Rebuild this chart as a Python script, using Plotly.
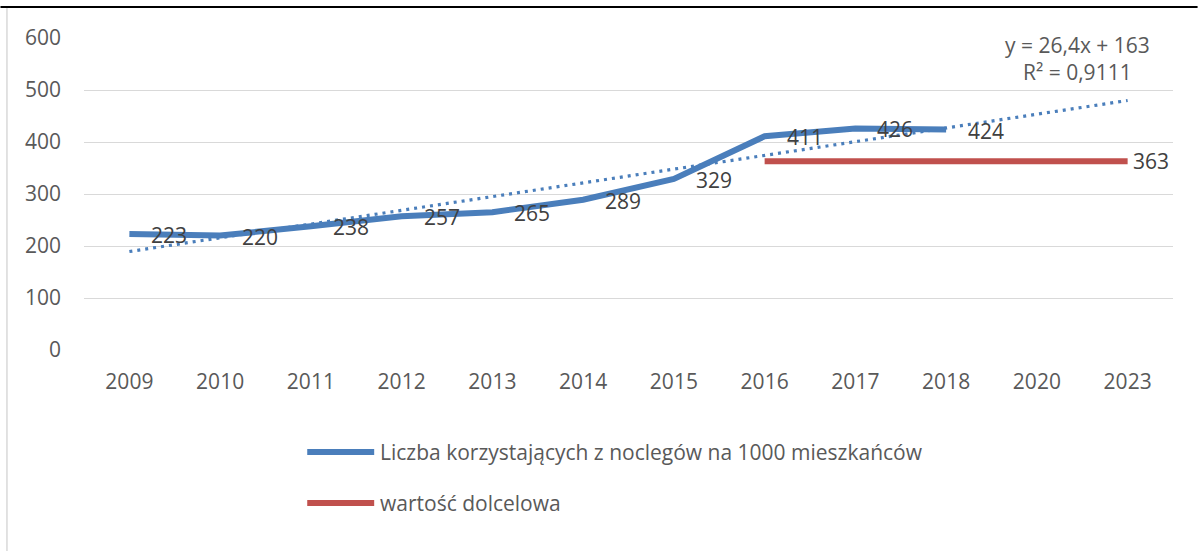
import plotly.graph_objects as go

# ---- data ----
years = ["2009", "2010", "2011", "2012", "2013", "2014", "2015", "2016", "2017", "2018", "2020", "2023"]
series_name = "Liczba korzystających z noclegów na 1000 mieszkańców"
series_values = [223, 220, 238, 257, 265, 289, 329, 411, 426, 424, None, None]
target_name = "wartość dolcelowa"
target_years = ["2016", "2017", "2018", "2020", "2023"]
target_values = [363, 363, 363, 363, 363]
trend_years = ["2009", "2023"]
trend_values = [189.4, 479.8]
trend_eq = "y = 26,4x + 163"
trend_r2 = "R² = 0,9111"

BLUE = "#4A7EBB"
RED = "#C0504D"
FONT = "Open Sans"
FS = 21

W, H = 1198, 551
L, R, T, B = 83.6, 24.6, 38, 201
pw, ph = W - L - R, H - T - B

def px(x):
    return (x - L) / pw

def py(y):
    return (H - B - y) / ph

fig = go.Figure()
fig.add_trace(go.Scatter(x=trend_years, y=trend_values, mode="lines",
                         line=dict(color=BLUE, width=3.2, dash="3px,5px"),
                         showlegend=False, hoverinfo="skip"))
fig.add_trace(go.Scatter(x=years, y=series_values, mode="lines", name=series_name,
                         line=dict(color=BLUE, width=6), showlegend=False))
fig.add_trace(go.Scatter(x=target_years, y=target_values, mode="lines", name=target_name,
                         line=dict(color=RED, width=6), showlegend=False))

annotations = []
for i, v in enumerate(series_values):
    if v is None:
        continue
    annotations.append(dict(x=i, y=v, xref="x", yref="y", text=str(v), showarrow=False,
                            xanchor="left", yanchor="middle", xshift=20, yshift=-1,
                            font=dict(family=FONT, size=FS, color="#404040")))
annotations.append(dict(x=years.index(target_years[-1]), y=target_values[-1], xref="x", yref="y",
                        text=str(target_values[-1]), showarrow=False,
                        xanchor="left", yanchor="middle", xshift=3,
                        font=dict(family=FONT, size=FS, color="#404040")))
annotations.append(dict(x=px(1078), y=py(45), xref="paper", yref="paper", text=trend_eq,
                        showarrow=False, xanchor="center", yanchor="middle",
                        font=dict(family=FONT, size=FS, color="#595959")))
annotations.append(dict(x=px(1078), y=py(72), xref="paper", yref="paper", text=trend_r2,
                        showarrow=False, xanchor="center", yanchor="middle",
                        font=dict(family=FONT, size=FS, color="#595959")))

# manual legend
shapes = []
for name, col, yy in [(series_name, BLUE, 452), (target_name, RED, 503)]:
    shapes.append(dict(type="line", xref="paper", yref="paper",
                       x0=px(307), x1=px(374), y0=py(yy), y1=py(yy),
                       line=dict(color=col, width=6)))
    annotations.append(dict(x=px(378), y=py(yy), xref="paper", yref="paper", text=name,
                            showarrow=False, xanchor="left", yanchor="middle",
                            font=dict(family=FONT, size=FS, color="#595959")))

# chart frame pieces
shapes.append(dict(type="line", xref="paper", yref="paper", x0=px(0), x1=px(W),
                   y0=py(7), y1=py(7), line=dict(color="#000000", width=2)))
shapes.append(dict(type="line", xref="paper", yref="paper", x0=px(6.5), x1=px(6.5),
                   y0=py(8), y1=py(H), line=dict(color="#D9D9D9", width=1.5)))

fig.update_layout(
    width=W, height=H,
    margin=dict(l=L, r=R, t=T, b=B),
    paper_bgcolor="white", plot_bgcolor="white",
    font=dict(family=FONT, size=FS, color="#595959"),
    showlegend=False,
    annotations=annotations,
    shapes=shapes,
    xaxis=dict(type="category", categoryorder="array", categoryarray=years,
               range=[-0.5, len(years) - 0.5], showgrid=False, showline=False,
               ticks="", ticklabelstandoff=17, tickfont=dict(size=FS, color="#595959")),
    yaxis=dict(range=[0, 600], dtick=100, showgrid=True, gridcolor="#D9D9D9", gridwidth=1.2,
               zeroline=False, showline=False, ticks="", ticklabelstandoff=22,
               tickfont=dict(size=FS, color="#595959")),
)

fig.write_html("out.html", config={"displayModeBar": False},
               post_script="document.body.style.margin='0';document.body.style.overflow='hidden';")
